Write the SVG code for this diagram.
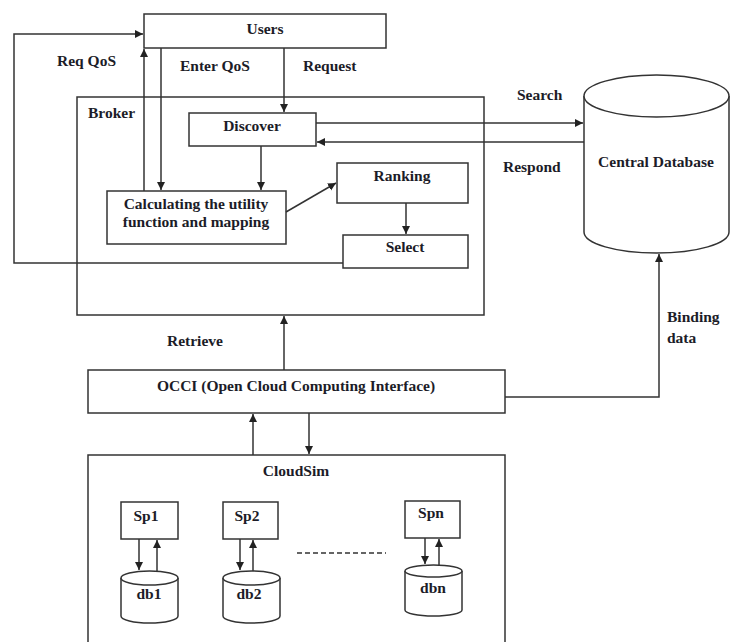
<svg xmlns="http://www.w3.org/2000/svg" width="734" height="642" viewBox="0 0 734 642">
<defs>
<marker id="ah" markerUnits="userSpaceOnUse" markerWidth="10" markerHeight="10" refX="8" refY="4" orient="auto">
<path d="M0,0 L8,4 L0,8 Z" fill="#222"/>
</marker>
<style>
.b{fill:#fff;stroke:#333;stroke-width:1.5}
.c{fill:none;stroke:#333;stroke-width:1.5}
.a{fill:none;stroke:#333;stroke-width:1.5;marker-end:url(#ah)}
text{font-family:"Liberation Serif","Times New Roman",serif;font-weight:bold;font-size:15.5px;fill:#1c1c28}
.m{text-anchor:middle}
</style>
</defs>
<rect width="734" height="642" fill="#fff"/>
<g id="broker"><rect class="b" x="77" y="97" width="407" height="218"/><text x="88" y="118">Broker</text></g>
<g id="cloudsim"><path class="c" d="M88,642 L88,455 L505,455 L505,642"/><text class="m" x="296" y="476">CloudSim</text></g>
<g id="users"><rect class="b" x="144" y="14" width="242" height="34"/><text class="m" x="265" y="34">Users</text></g>
<g id="discover"><rect class="b" x="189" y="113" width="127" height="33"/><text class="m" x="252" y="131">Discover</text></g>
<g id="calc"><rect class="b" x="107" y="191" width="179" height="53"/><text class="m" x="196" y="209">Calculating the utility</text><text class="m" x="196" y="227">function and mapping</text></g>
<g id="ranking"><rect class="b" x="337" y="163" width="131" height="40"/><text class="m" x="402" y="181">Ranking</text></g>
<g id="select"><rect class="b" x="343" y="235" width="125" height="33"/><text class="m" x="405" y="252">Select</text></g>
<g id="centraldb"><path class="b" d="M584,96 L584,232 A72.5,21 0 0 0 729,232 L729,96"/><ellipse class="b" cx="656.5" cy="96" rx="72.5" ry="21"/><text class="m" x="656" y="167">Central Database</text></g>
<g id="occi"><rect class="b" x="88" y="370" width="417" height="43"/><text class="m" x="296" y="391">OCCI (Open Cloud Computing Interface)</text></g>
<g id="sp1"><rect class="b" x="121" y="502" width="57" height="37"/><text class="m" x="146" y="521">Sp1</text></g>
<g id="sp2"><rect class="b" x="223" y="502" width="55" height="37"/><text class="m" x="247" y="521">Sp2</text></g>
<g id="spn"><rect class="b" x="405" y="501" width="55" height="37"/><text class="m" x="431" y="518">Spn</text></g>
<g id="db1"><path class="b" d="M121,578 L121,616 A28.5,7 0 0 0 178,616 L178,578"/><ellipse class="b" cx="149.5" cy="578" rx="28.5" ry="7"/><text class="m" x="149" y="599">db1</text></g>
<g id="db2"><path class="b" d="M223,578 L223,616 A28.5,7 0 0 0 280,616 L280,578"/><ellipse class="b" cx="251.5" cy="578" rx="28.5" ry="7"/><text class="m" x="249" y="599">db2</text></g>
<g id="dbn"><path class="b" d="M405,571 L405,610 A28.5,6 0 0 0 462,610 L462,571"/><ellipse class="b" cx="433.5" cy="571" rx="28.5" ry="6"/><text class="m" x="433" y="593">dbn</text></g>
<g id="connectors">
<path class="a" d="M343,263 L14,263 L14,34 L143,34"/>
<path class="a" d="M144,191 L144,49"/>
<path class="a" d="M161,48 L161,190"/>
<path class="a" d="M284,48 L284,112"/>
<path class="a" d="M261,146 L261,190"/>
<path class="a" d="M286,212 L336,183"/>
<path class="a" d="M406,203 L406,234"/>
<path class="a" d="M316,123 L583,123"/>
<path class="a" d="M584,142 L317,142"/>
<path class="a" d="M284,370 L284,316"/>
<path class="a" d="M505,397 L659,397 L659,254"/>
<path class="a" d="M253,455 L253,414"/>
<path class="a" d="M309,413 L309,454"/>
<path class="a" d="M139,539 L139,570"/>
<path class="a" d="M157,571 L157,540"/>
<path class="a" d="M240,539 L240,570"/>
<path class="a" d="M253,571 L253,540"/>
<path class="a" d="M425,538 L425,564"/>
<path class="a" d="M439,565 L439,539"/>
<path class="c" d="M297,553 L386,553" stroke-dasharray="5,3"/>
</g>
<text x="57" y="66">Req QoS</text>
<text x="180" y="71">Enter QoS</text>
<text x="303" y="71">Request</text>
<text x="517" y="100">Search</text>
<text x="503" y="172">Respond</text>
<text x="167" y="346">Retrieve</text>
<text x="667" y="322">Binding</text>
<text x="667" y="343">data</text>
</svg>
